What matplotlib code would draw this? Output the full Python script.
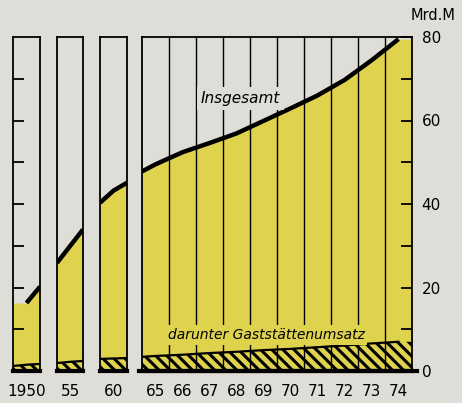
import matplotlib
matplotlib.use("Agg")
import matplotlib.pyplot as plt
from matplotlib.lines import Line2D

# ---- data (Mrd. M) ----
years = [1950, 1955, 1960, 1965, 1966, 1967, 1968, 1969, 1970, 1971, 1972, 1973, 1974]
year_labels = ["1950", "55", "60", "65", "66", "67", "68", "69", "70", "71", "72", "73", "74"]
total = [16.3, 29.9, 43.2, 49.5, 52.4, 54.6, 56.9, 59.9, 62.9, 66.0, 69.7, 74.4, 79.5]
gast = [1.5, 2.2, 3.0, 3.6, 3.9, 4.3, 4.6, 5.0, 5.3, 5.7, 6.1, 6.6, 7.0]
# values where the curves cross the panel borders (None = curve starts/ends inside)
total_left_edge = [None, 25.9, 40.3, 47.8]
total_right_edge = [20.2, 33.9, 45.1, None]
gast_left_edge = [1.2, 1.9, 2.9, 3.4]
gast_right_edge = [1.7, 2.4, 3.1, None]
panel_years = [(1950, 1950), (1955, 1955), (1960, 1960), (1965, 1974)]
yticks_major = [0, 20, 40, 60, 80]
yticks_minor = [10, 30, 50, 70]

BG = "#DEDDD7"
YEL = "#DFD34E"

plt.rcParams["hatch.linewidth"] = 2.2
plt.rcParams["font.family"] = ["DejaVu Sans"]

W, H = 462, 403
fig = plt.figure(figsize=(W / 100, H / 100), dpi=100, facecolor=BG)

# panel pixel extents (left, right)
px = [(13, 40), (57, 83), (100, 127), (142, 412)]
top_px, bot_px = 37, 371


def build(xs, vs, le, re, a, b):
    line_x, line_y = list(xs), list(vs)
    fill_x, fill_y = list(xs), list(vs)
    if le is not None:
        line_x.insert(0, a); line_y.insert(0, le)
        fill_x.insert(0, a); fill_y.insert(0, le)
    else:
        fill_x.insert(0, a); fill_y.insert(0, vs[0])
    if re is not None:
        line_x.append(b); line_y.append(re)
        fill_x.append(b); fill_y.append(re)
    else:
        fill_x.append(b); fill_y.append(vs[-1])
    return line_x, line_y, fill_x, fill_y


for i, ((y0, y1), (l, r)) in enumerate(zip(panel_years, px)):
    ax = fig.add_axes([l / W, 1 - bot_px / H, (r - l) / W, (bot_px - top_px) / H])
    ax.set_facecolor(BG)
    a, b = y0 - 0.5, y1 + 0.5
    ax.set_xlim(a, b)
    ax.set_ylim(0, 80)
    idx = [k for k, y in enumerate(years) if y0 <= y <= y1]
    xs = [years[k] for k in idx]
    tv = [total[k] for k in idx]
    gv = [gast[k] for k in idx]

    lx, ly, fx, fy = build(xs, tv, total_left_edge[i], total_right_edge[i], a, b)
    ax.fill_between(fx, 0, fy, color=YEL, lw=0, zorder=1)
    ax.plot(lx, ly, color="black", lw=3.2, solid_capstyle="butt", zorder=4)

    glx, gly, gfx, gfy = build(xs, gv, gast_left_edge[i], gast_right_edge[i], a, b)
    ax.fill_between(gfx, 0, gfy, facecolor=YEL, edgecolor="black", hatch="\\\\\\",
                    lw=0, zorder=2)
    ax.plot(glx, gly, color="black", lw=1.6, zorder=4)

    ax.set_xticks(xs)
    ax.set_xticklabels([year_labels[k] for k in idx], fontsize=11)
    ax.tick_params(axis="x", length=0, pad=9)

    for s in ("top", "left", "right"):
        ax.spines[s].set_linewidth(1.3)
        ax.spines[s].set_zorder(5)
    ax.spines["bottom"].set_linewidth(3)
    ax.spines["bottom"].set_zorder(6)

    if i == 0:
        ax.set_yticks(yticks_minor + [20, 40, 60])
        ax.set_yticklabels([])
        ax.tick_params(axis="y", left=True, right=False, direction="in",
                       length=8, width=1.3, labelleft=False)
    elif i == 3:
        ax.yaxis.tick_right()
        ax.set_yticks(yticks_major)
        ax.set_yticklabels([str(v) for v in yticks_major], fontsize=11)
        ax.set_yticks(yticks_minor, minor=True)
        ax.tick_params(axis="y", which="both", direction="in", length=8,
                       width=1.3, pad=7, left=False, right=True)
        # year boundaries
        for yb in range(y0, y1):
            ax.axvline(yb + 0.5, color="black", lw=1.0, zorder=3)
        ax.text(1968.15, 65.2, "Insgesamt", style="italic", fontsize=11,
                ha="center", va="center", zorder=4,
                bbox=dict(facecolor=BG, edgecolor="none", pad=3))
        ax.text(1969.1, 8.6, "darunter Gaststättenumsatz", style="italic",
                fontsize=10, ha="center", va="center", zorder=4,
                bbox=dict(facecolor=YEL, edgecolor="none", pad=2))
        ax.add_line(Line2D([-0.01, 1.02], [0, 0], transform=ax.transAxes,
                           color="black", lw=3, clip_on=False, zorder=6))
    else:
        ax.set_yticks([])

fig.text(433 / W, 1 - 16 / H, "Mrd.M", ha="center", va="center", fontsize=10.5)

fig.savefig("out.png", dpi=100, facecolor=BG)
